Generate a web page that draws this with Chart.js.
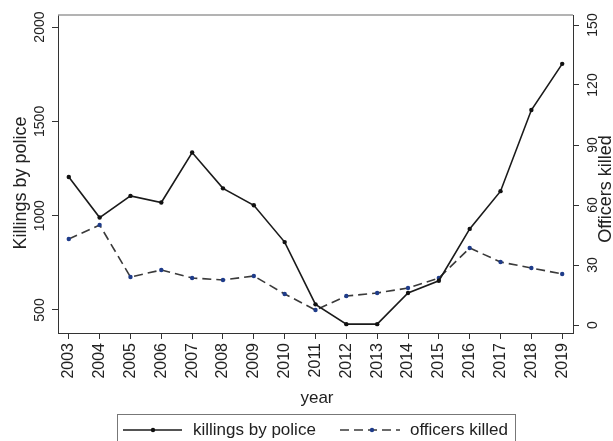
<!DOCTYPE html>
<html>
<head>
<meta charset="utf-8">
<script src="https://cdn.jsdelivr.net/npm/chart.js@4/dist/chart.umd.min.js"></script>
<style>
  html, body { margin: 0; padding: 0; background: #fff; }
  #wrap { width: 613px; height: 441px; }
</style>
</head>
<body>
<div id="wrap"><canvas id="c" width="613" height="441"></canvas></div>
<script>
// Years on the horizontal axis
const years = [2003, 2004, 2005, 2006, 2007, 2008, 2009, 2010, 2011, 2012, 2013, 2014, 2015, 2016, 2017, 2018, 2019];
// Killings by police per year (left axis)
const killings = [1205, 990, 1105, 1070, 1335, 1145, 1055, 860, 530, 425, 425, 590, 655, 930, 1130, 1560, 1805];
// Officers killed per year (right axis)
const officers = [43, 50, 24, 27.5, 23.5, 22.5, 24.5, 15.5, 7.5, 14.5, 16, 18.5, 23.5, 38.5, 31.5, 28.5, 25.5];
// Tick values
const leftTicks = [500, 1000, 1500, 2000];
const rightTicks = [0, 30, 60, 90, 120, 150];
// Axis titles
const xTitle = 'year';
const leftTitle = 'Killings by police';
const rightTitle = 'Officers killed';

const FONT = '"Liberation Sans", Arial, Helvetica, sans-serif';
const AXIS = '#333';

// Draws rotated y tick labels, axis titles, the top frame line and the legend box
const decorations = {
  id: 'decorations',
  afterDraw(chart) {
    const ctx = chart.ctx;
    const area = chart.chartArea;
    ctx.save();

    // top frame line
    ctx.strokeStyle = '#9a9a9a';
    ctx.lineWidth = 1.5;
    ctx.beginPath();
    ctx.moveTo(area.left, area.top);
    ctx.lineTo(area.right, area.top);
    ctx.stroke();

    const vText = (txt, x, y, size) => {
      ctx.save();
      ctx.translate(x, y);
      ctx.rotate(-Math.PI / 2);
      ctx.font = size + 'px ' + FONT;
      ctx.fillStyle = '#222';
      ctx.textAlign = 'center';
      ctx.textBaseline = 'middle';
      ctx.fillText(txt, 0, 0);
      ctx.restore();
    };

    const yl = chart.scales.y;
    yl.ticks.forEach(t => vText(String(t.value), 40, yl.getPixelForValue(t.value), 14));
    const yr = chart.scales.y2;
    yr.ticks.forEach(t => vText(String(t.value), 593, yr.getPixelForValue(t.value), 14));

    vText(leftTitle, 21, 183, 18);
    vText(rightTitle, 606, 189, 18);

    // x title
    ctx.font = '17px ' + FONT;
    ctx.fillStyle = '#222';
    ctx.textAlign = 'center';
    ctx.textBaseline = 'middle';
    ctx.fillText(xTitle, 317, 398);

    // legend
    ctx.strokeStyle = '#777';
    ctx.lineWidth = 1;
    ctx.strokeRect(117.5, 414.5, 398, 34);
    const ds = chart.data.datasets;
    const ly = 430;
    const items = [
      { x0: 123, x1: 182, mx: 153, tx: 193 },
      { x0: 340, x1: 400, mx: 372, tx: 410 }
    ];
    items.forEach((it, i) => {
      const d = ds[i];
      ctx.save();
      ctx.strokeStyle = d.borderColor;
      ctx.lineWidth = d.borderWidth;
      ctx.setLineDash(d.borderDash || []);
      ctx.beginPath();
      ctx.moveTo(it.x0, ly);
      ctx.lineTo(it.x1, ly);
      ctx.stroke();
      ctx.restore();
      ctx.fillStyle = d.pointBackgroundColor;
      ctx.beginPath();
      ctx.arc(it.mx, ly, d.pointRadius, 0, Math.PI * 2);
      ctx.fill();
      ctx.font = '17px ' + FONT;
      ctx.fillStyle = '#222';
      ctx.textAlign = 'left';
      ctx.textBaseline = 'middle';
      ctx.fillText(d.label, it.tx, ly);
    });

    ctx.restore();
  }
};

const bg = {
  id: 'bg',
  beforeDraw(chart) {
    const ctx = chart.ctx;
    ctx.save();
    ctx.fillStyle = '#fff';
    ctx.fillRect(0, 0, chart.width, chart.height);
    ctx.restore();
  }
};

new Chart(document.getElementById('c'), {
  type: 'line',
  data: {
    datasets: [
      {
        label: 'killings by police',
        data: years.map((y, i) => ({ x: y, y: killings[i] })),
        yAxisID: 'y',
        borderColor: '#1a1a1a',
        borderWidth: 1.6,
        pointRadius: 2.2,
        pointBorderWidth: 0,
        pointBackgroundColor: '#111',
        tension: 0
      },
      {
        label: 'officers killed',
        data: years.map((y, i) => ({ x: y, y: officers[i] })),
        yAxisID: 'y2',
        borderColor: '#3a3a3a',
        borderWidth: 1.6,
        borderDash: [9, 5],
        pointRadius: 2.2,
        pointBorderWidth: 0,
        pointBackgroundColor: '#1f3c8a',
        tension: 0
      }
    ]
  },
  options: {
    responsive: false,
    animation: false,
    layout: { padding: { top: 15, left: 0, right: 0, bottom: 0 } },
    plugins: { legend: { display: false }, tooltip: { enabled: false } },
    scales: {
      x: {
        type: 'linear',
        min: 2002.65,
        max: 2019.35,
        afterBuildTicks: s => { s.ticks = years.map(v => ({ value: v })); },
        afterFit: s => { s.height = 108; },
        grid: { drawOnChartArea: false, drawTicks: true, tickLength: 6, color: AXIS },
        border: { display: true, color: AXIS, width: 1 },
        ticks: {
          autoSkip: false, minRotation: 90, maxRotation: 90, padding: 4,
          color: '#222', font: { family: FONT, size: 16 },
          callback: v => String(v)
        }
      },
      y: {
        position: 'left',
        min: 378,
        max: 2064,
        afterBuildTicks: s => { s.ticks = leftTicks.map(v => ({ value: v })); },
        afterFit: s => { s.width = 58; },
        grid: { drawOnChartArea: false, drawTicks: true, tickLength: 6, color: AXIS },
        border: { display: true, color: AXIS, width: 1 },
        ticks: { display: false }
      },
      y2: {
        position: 'right',
        min: -4,
        max: 155,
        afterBuildTicks: s => { s.ticks = rightTicks.map(v => ({ value: v })); },
        afterFit: s => { s.width = 40; },
        grid: { drawOnChartArea: false, drawTicks: true, tickLength: 6, color: AXIS },
        border: { display: true, color: AXIS, width: 1 },
        ticks: { display: false }
      }
    }
  },
  plugins: [bg, decorations]
});
</script>
</body>
</html>
